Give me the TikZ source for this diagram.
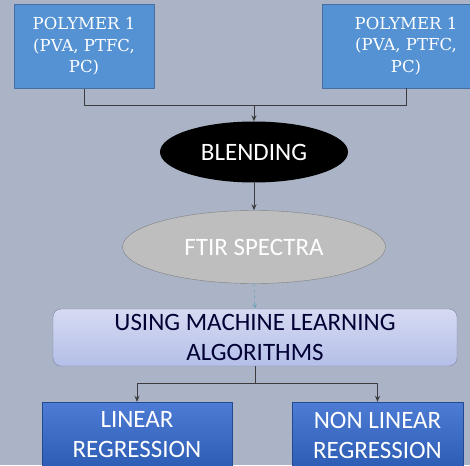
\documentclass[tikz,border=0pt]{standalone}
\usepackage{fontspec}
\setmainfont{DejaVu Serif}
\setsansfont{Carlito}
\usetikzlibrary{shapes.geometric,arrows.meta}
\definecolor{bgcol}{RGB}{170,180,198}
\definecolor{polyfill}{RGB}{84,146,212}
\definecolor{polyedge}{RGB}{70,110,160}
\definecolor{ftirfill}{RGB}{190,190,190}
\definecolor{mltop}{RGB}{214,219,242}
\definecolor{mlbot}{RGB}{180,190,232}
\definecolor{regtop}{RGB}{78,124,212}
\definecolor{regbot}{RGB}{44,92,180}
\definecolor{linecol}{RGB}{60,60,60}
\tikzset{
  polybox/.style={draw=polyedge, fill=polyfill, text=white, minimum height=84, align=center,
    font=\fontsize{16.5}{21.5}\selectfont, inner sep=0pt},
  oval/.style={ellipse, inner sep=0pt, font=\sffamily\fontsize{25}{28}\selectfont},
  mlbox/.style={draw=mlbot!70!black, rounded corners=8, top color=mltop, bottom color=mlbot,
    minimum width=404, minimum height=57, align=center, text=black!80!blue,
    font=\sffamily\fontsize{25}{30}\selectfont, inner sep=0pt},
  regbox/.style={draw=regbot!80!black, top color=regtop, bottom color=regbot, text=white,
    minimum height=66, align=center, font=\sffamily\fontsize{25}{30}\selectfont, inner sep=0pt},
  conn/.style={draw=linecol, line width=0.9pt, -{Stealth[length=6pt,width=5pt]}}
}
\begin{document}
\begin{tikzpicture}[x=1pt, y=-1pt, line join=round]
  \useasboundingbox (0,0) rectangle (470,465);
  \fill[bgcol] (0,0) rectangle (470,465);
  \clip (0,0) rectangle (470,465);
  % polymers
  \node[polybox, minimum width=140] (poly1) at (84,46.5) {POLYMER 1\\(PVA, PTFC,\\PC)};
  \node[polybox, minimum width=168] (poly2) at (406,46) {POLYMER 1\\(PVA, PTFC,\\PC)};
  % blending and spectra
  \node[oval, fill=black, text=white, minimum width=188, minimum height=61] (blend) at (254,152) {BLENDING};
  \node[oval, draw=gray, fill=ftirfill, text=white, minimum width=263, minimum height=73] (ftir) at (254,247) {FTIR SPECTRA};
  % algorithms
  \node[mlbox] (ml) at (255,337.5) {USING MACHINE LEARNING\\ALGORITHMS};
  \node[regbox, minimum width=190] (lin) at (137,435) {LINEAR\\REGRESSION};
  \node[regbox, minimum width=171] (nonlin) at (377.5,435) {NON LINEAR\\REGRESSION};
  % connectors
  \coordinate (j) at (254,105);
  \coordinate (k) at (255,383);
  \draw[linecol, line width=0.9pt] (poly1.south) |- (j);
  \draw[linecol, line width=0.9pt] (poly2.south) |- (j);
  \draw[conn] (j) -- (blend.north);
  \draw[conn] (blend.south) -- (ftir.north);
  \draw[draw=cyan!40!gray, line width=0.6pt, dashed, -{Stealth[length=5pt,width=4pt]}] (ftir.south) -- (ml.north);
  \draw[linecol, line width=0.9pt] (ml.south) -- (k);
  \draw[conn] (k) -| (lin.north);
  \draw[conn] (k) -| (nonlin.north);
\end{tikzpicture}
\end{document}
